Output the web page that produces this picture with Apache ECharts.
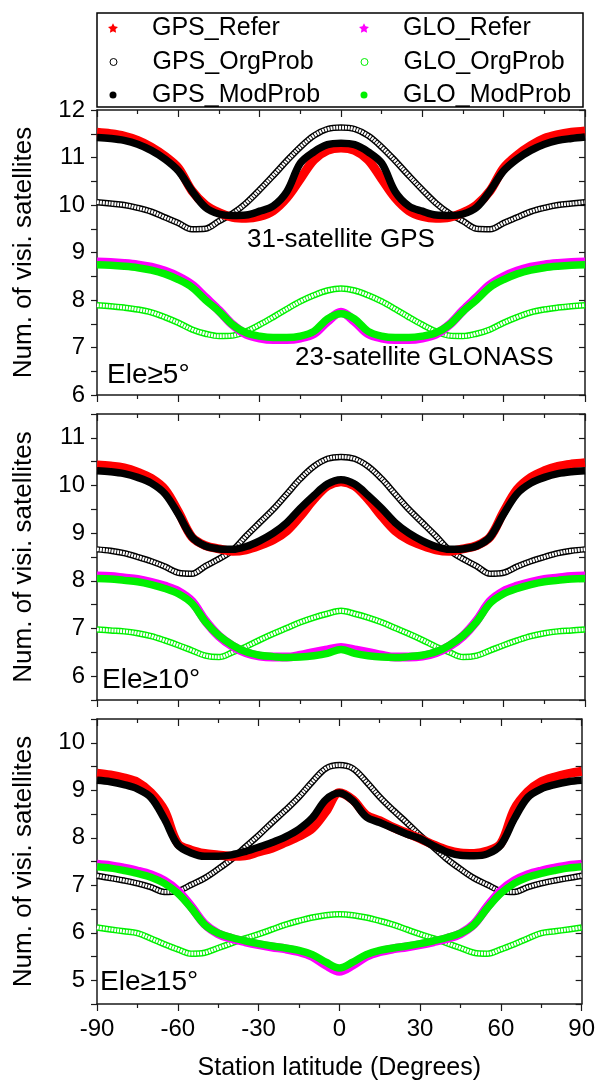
<!DOCTYPE html>
<html>
<head>
<meta charset="utf-8">
<script src="https://cdn.jsdelivr.net/npm/echarts@6/dist/echarts.min.js"></script>
<style>html,body{margin:0;padding:0;background:#fff}#c{width:598px;height:1082px}</style>
</head>
<body>
<div id="c"></div>
<script>
// ---- data ----
const LAT = [-90,-85,-80,-75,-70,-65,-60,-55,-50,-45,-40,-35,-30,-25,-20,-15,-10,-5,0,5,10,15,20,25,30,35,40,45,50,55,60,65,70,75,80,85,90];
const X_TICKS = [-90,-60,-30,0,30,60,90];

// Ele >= 5 deg
const GPS_REFER_5 = [11.53,11.50,11.45,11.36,11.22,11.03,10.78,10.30,10.00,9.84,9.74,9.72,9.76,9.88,10.15,10.55,10.95,11.15,11.20,11.15,10.95,10.55,10.15,9.88,9.76,9.72,9.74,9.84,10.00,10.30,10.78,11.05,11.25,11.40,11.48,11.53,11.56];
const GPS_ORG_5   = [10.06,10.03,10.00,9.94,9.86,9.74,9.62,9.49,9.50,9.66,9.82,10.04,10.32,10.62,10.93,11.22,11.46,11.60,11.63,11.60,11.46,11.22,10.93,10.62,10.32,10.04,9.82,9.66,9.50,9.49,9.62,9.74,9.86,9.94,10.00,10.03,10.06];
const GPS_MOD_5   = [11.42,11.40,11.36,11.28,11.15,10.97,10.72,10.30,9.95,9.81,9.78,9.79,9.87,9.98,10.28,10.88,11.12,11.27,11.30,11.27,11.12,10.88,10.28,9.98,9.87,9.79,9.78,9.81,9.95,10.30,10.72,10.97,11.15,11.28,11.36,11.40,11.43];
const GLO_REFER_5 = [8.80,8.79,8.77,8.74,8.69,8.61,8.49,8.32,8.05,7.78,7.48,7.28,7.20,7.17,7.17,7.20,7.29,7.55,7.74,7.55,7.29,7.20,7.17,7.17,7.20,7.28,7.48,7.78,8.05,8.32,8.49,8.61,8.69,8.74,8.77,8.79,8.80];
const GLO_ORG_5   = [7.89,7.87,7.84,7.80,7.74,7.64,7.52,7.38,7.29,7.24,7.25,7.34,7.48,7.64,7.81,7.97,8.10,8.20,8.24,8.20,8.10,7.97,7.81,7.64,7.48,7.34,7.25,7.24,7.29,7.38,7.52,7.64,7.74,7.80,7.84,7.87,7.89];
const GLO_MOD_5   = [8.74,8.73,8.71,8.68,8.63,8.55,8.43,8.27,8.00,7.76,7.48,7.31,7.24,7.21,7.21,7.24,7.34,7.60,7.71,7.60,7.34,7.24,7.21,7.21,7.24,7.31,7.48,7.76,8.00,8.27,8.43,8.55,8.63,8.68,8.71,8.73,8.74];

// Ele >= 10 deg
const GPS_REFER_10 = [10.43,10.41,10.37,10.28,10.15,9.92,9.45,8.92,8.74,8.67,8.62,8.65,8.74,8.86,9.05,9.36,9.71,9.99,10.08,9.99,9.71,9.36,9.05,8.86,8.74,8.65,8.62,8.67,8.74,8.92,9.45,9.92,10.17,10.31,10.40,10.45,10.48];
const GPS_ORG_10   = [8.66,8.63,8.58,8.50,8.41,8.30,8.17,8.15,8.31,8.46,8.64,8.94,9.22,9.50,9.82,10.14,10.40,10.56,10.60,10.56,10.40,10.14,9.82,9.50,9.22,8.94,8.64,8.46,8.31,8.15,8.17,8.30,8.41,8.50,8.58,8.63,8.66];
const GPS_MOD_10   = [10.31,10.29,10.25,10.17,10.05,9.83,9.40,8.92,8.73,8.67,8.66,8.72,8.84,9.00,9.22,9.52,9.79,10.03,10.12,10.03,9.79,9.52,9.22,9.00,8.84,8.72,8.66,8.67,8.73,8.92,9.40,9.83,10.05,10.17,10.25,10.29,10.31];
const GLO_REFER_10 = [8.10,8.09,8.06,8.03,7.97,7.89,7.78,7.57,7.16,6.84,6.63,6.49,6.42,6.40,6.40,6.44,6.50,6.55,6.60,6.55,6.50,6.44,6.40,6.40,6.42,6.49,6.63,6.84,7.16,7.57,7.78,7.89,7.97,8.03,8.06,8.09,8.10];
const GLO_ORG_10   = [6.98,6.96,6.94,6.90,6.84,6.75,6.65,6.54,6.43,6.40,6.50,6.62,6.76,6.89,7.01,7.13,7.23,7.31,7.37,7.31,7.23,7.13,7.01,6.89,6.76,6.62,6.50,6.40,6.43,6.54,6.65,6.75,6.84,6.90,6.94,6.96,6.98];
const GLO_MOD_10   = [8.05,8.04,8.01,7.98,7.92,7.84,7.73,7.53,7.14,6.85,6.65,6.51,6.44,6.41,6.39,6.40,6.43,6.48,6.56,6.48,6.43,6.40,6.39,6.41,6.44,6.51,6.65,6.85,7.14,7.53,7.73,7.84,7.92,7.98,8.01,8.04,8.05];

// Ele >= 15 deg
const GPS_REFER_15 = [9.36,9.32,9.26,9.17,8.95,8.58,7.88,7.74,7.67,7.64,7.61,7.62,7.70,7.78,7.90,8.03,8.20,8.55,8.95,8.80,8.48,8.36,8.22,8.10,7.98,7.85,7.74,7.68,7.67,7.72,7.88,8.60,8.97,9.18,9.28,9.35,9.40];
const GPS_ORG_15   = [7.20,7.15,7.10,7.04,6.96,6.86,6.88,7.01,7.15,7.34,7.55,7.80,8.05,8.32,8.58,8.86,9.18,9.46,9.53,9.46,9.18,8.86,8.58,8.32,8.05,7.80,7.55,7.34,7.15,7.01,6.88,6.86,6.96,7.04,7.10,7.15,7.20];
const GPS_MOD_15   = [9.21,9.18,9.12,9.03,8.85,8.40,7.85,7.68,7.61,7.61,7.64,7.71,7.80,7.90,8.02,8.18,8.42,8.80,8.94,8.78,8.44,8.32,8.20,8.08,7.98,7.83,7.70,7.63,7.62,7.66,7.85,8.40,8.85,9.03,9.12,9.18,9.21];
const GLO_REFER_15 = [7.44,7.41,7.36,7.30,7.22,7.09,6.88,6.55,6.18,5.98,5.88,5.81,5.75,5.70,5.66,5.60,5.50,5.32,5.19,5.32,5.50,5.60,5.66,5.70,5.75,5.81,5.88,5.98,6.18,6.55,6.88,7.09,7.22,7.30,7.36,7.41,7.44];
const GLO_ORG_15   = [6.11,6.07,6.03,5.99,5.88,5.76,5.65,5.56,5.58,5.68,5.78,5.88,5.97,6.07,6.17,6.25,6.32,6.37,6.39,6.37,6.32,6.25,6.17,6.07,5.97,5.88,5.78,5.68,5.58,5.56,5.65,5.76,5.88,5.99,6.03,6.07,6.11];
const GLO_MOD_15   = [7.39,7.36,7.31,7.25,7.17,7.04,6.83,6.52,6.17,5.99,5.90,5.83,5.77,5.72,5.68,5.63,5.54,5.38,5.26,5.38,5.54,5.63,5.68,5.72,5.77,5.83,5.90,5.99,6.17,6.52,6.83,7.04,7.17,7.25,7.31,7.36,7.39];

const PANELS = [
  {ele:'5',  yMin:6,   yMax:12,   gpsRef:GPS_REFER_5,  gpsOrg:GPS_ORG_5,  gpsMod:GPS_MOD_5,  gloRef:GLO_REFER_5,  gloOrg:GLO_ORG_5,  gloMod:GLO_MOD_5},
  {ele:'10', yMin:5.5, yMax:11.5, gpsRef:GPS_REFER_10, gpsOrg:GPS_ORG_10, gpsMod:GPS_MOD_10, gloRef:GLO_REFER_10, gloOrg:GLO_ORG_10, gloMod:GLO_MOD_10},
  {ele:'15', yMin:4.5, yMax:10.5, gpsRef:GPS_REFER_15, gpsOrg:GPS_ORG_15, gpsMod:GPS_MOD_15, gloRef:GLO_REFER_15, gloOrg:GLO_ORG_15, gloMod:GLO_MOD_15}
];

// ---- styling / layout ----
const FONT = '"Liberation Sans", Arial, sans-serif';
const FRAME = '#1a1a1a';
const RED = '#ff0000', MAG = '#ff00ff', GRN = '#00f000', BLK = '#000000';
const GRID_POS = [{top:110, height:285}, {top:414, height:286}, {top:719, height:286}];
const STAR = 'path://M0,-10L2.94,-4.05L9.51,-3.09L4.76,1.55L5.88,8.09L0,5L-5.88,8.09L-4.76,1.55L-9.51,-3.09L-2.94,-4.05Z';

const grids = [], xAxes = [], yAxes = [], series = [];
const axisLine = {show:true, onZero:false, lineStyle:{color:FRAME, width:1.5}};

PANELS.forEach((p, i) => {
  grids.push({left:97, right:13, top:GRID_POS[i].top, height:GRID_POS[i].height, containLabel:false});
  const last = i === PANELS.length - 1;
  // bottom x axis
  xAxes.push({
    type:'value', gridIndex:i, position:'bottom', min:-90, max:90, interval:30,
    axisLine, splitLine:{show:false},
    axisTick:{show:true, inside:false, length:7, lineStyle:{color:FRAME, width:1.2}},
    minorTick:{show:true, splitNumber:2, length:4, lineStyle:{color:FRAME, width:1.2}},
    axisLabel:{show:last, fontSize:24, fontFamily:FONT, color:'#000', margin:13,
      customValues: X_TICKS},
    name: last ? 'Station latitude (Degrees)' : '',
    nameLocation:'middle', nameGap:52,
    nameTextStyle:{fontSize:25, fontFamily:FONT, color:'#000'}
  });
  // top x axis (frame)
  xAxes.push({
    type:'value', gridIndex:i, position:'top', min:-90, max:90, interval:30,
    axisLine, splitLine:{show:false},
    axisTick:{show:true, inside:true, length:7, lineStyle:{color:FRAME, width:1.2}},
    minorTick:{show:true, splitNumber:2, length:4, lineStyle:{color:FRAME, width:1.2}},
    axisLabel:{show:false}
  });
  // left y axis
  yAxes.push({
    type:'value', gridIndex:i, position:'left', min:p.yMin, max:p.yMax, interval:0.5,
    axisLine, splitLine:{show:false},
    axisTick:{show:true, inside:false, length:6, lineStyle:{color:FRAME, width:1.2}},
    axisLabel:{fontSize:24, fontFamily:FONT, color:'#000', margin:12,
      formatter: v => (Math.abs(v - Math.round(v)) < 1e-6 ? String(Math.round(v)) : '')},
    name:'Num. of visi. satellites', nameLocation:'middle', nameGap:60,
    nameTextStyle:{fontSize:26, fontFamily:FONT, color:'#000'}
  });
  // right y axis (frame)
  yAxes.push({
    type:'value', gridIndex:i, position:'right', min:p.yMin, max:p.yMax, interval:0.5,
    axisLine, splitLine:{show:false},
    axisTick:{show:true, inside:true, length:6, lineStyle:{color:FRAME, width:1.2}},
    axisLabel:{show:false}
  });

  const d = vals => LAT.map((x, k) => [x, vals[k]]);
  const base = {type:'line', xAxisIndex:i*2, yAxisIndex:i*2, showSymbol:false, symbol:'none',
    smooth:0.35, animation:false, silent:true};
  // hollow-circle series: dark ring band + white dashed core
  series.push({...base, name:'GPS_OrgProb', data:d(p.gpsOrg), itemStyle:{color:BLK}, lineStyle:{color:BLK, width:6.5}});
  series.push({...base, name:'gps_org_core_'+i, data:d(p.gpsOrg), lineStyle:{color:'#fff', width:3.6, type:[2,0.9]}});
  series.push({...base, name:'GLO_OrgProb', data:d(p.gloOrg), itemStyle:{color:GRN}, lineStyle:{color:GRN, width:6.5}});
  series.push({...base, name:'glo_org_core_'+i, data:d(p.gloOrg), lineStyle:{color:'#fff', width:3.6, type:[2,0.9]}});
  // star series
  series.push({...base, name:'GPS_Refer', data:d(p.gpsRef), itemStyle:{color:RED}, lineStyle:{color:RED, width:9}});
  series.push({...base, name:'GLO_Refer', data:d(p.gloRef), itemStyle:{color:MAG}, lineStyle:{color:MAG, width:9}});
  // filled circles
  series.push({...base, name:'GPS_ModProb', data:d(p.gpsMod), itemStyle:{color:BLK}, lineStyle:{color:BLK, width:7.5}});
  series.push({...base, name:'GLO_ModProb', data:d(p.gloMod), itemStyle:{color:GRN}, lineStyle:{color:GRN, width:7.5}});
});

// legend: one component per entry for exact placement
const LEG = [
  {name:'GPS_Refer',   col:0, row:0, icon:STAR,     size:10, style:{color:RED}},
  {name:'GLO_Refer',   col:1, row:0, icon:STAR,     size:10, style:{color:MAG}},
  {name:'GPS_OrgProb', col:0, row:1, icon:'circle', size:7,  style:{color:'#fff', borderColor:BLK, borderWidth:1}},
  {name:'GLO_OrgProb', col:1, row:1, icon:'circle', size:7,  style:{color:'#fff', borderColor:GRN, borderWidth:1}},
  {name:'GPS_ModProb', col:0, row:2, icon:'circle', size:7,  style:{color:BLK}},
  {name:'GLO_ModProb', col:1, row:2, icon:'circle', size:7,  style:{color:GRN}}
];
const ICON_X = [113, 364], TEXT_X = [152, 403], ROW_Y = [28, 62, 95];
const legends = LEG.map(l => ({
  show:true, selectedMode:false, orient:'horizontal', padding:0,
  left: ICON_X[l.col] - l.size/2, top: ROW_Y[l.row] - 13,
  itemWidth:l.size, itemHeight:l.size,
  data:[{name:l.name, icon:l.icon, itemStyle:l.style}],
  textStyle:{fontSize:25, fontFamily:FONT, color:'#000', lineHeight:26,
    padding:[0,0,0, TEXT_X[l.col] - (ICON_X[l.col] + l.size/2 + 5)]}
}));

const txt = (t, x, y, size) => ({type:'text', x, y, silent:true,
  style:{text:t, fontSize:size, fontFamily:FONT, fill:'#000', verticalAlign:'middle', align:'left'}});

const option = {
  backgroundColor:'#fff',
  animation:false,
  grid:grids, xAxis:xAxes, yAxis:yAxes, series, legend:legends,
  graphic:[
    {type:'rect', shape:{x:97, y:13, width:486, height:94}, silent:true,
      style:{fill:'none', stroke:BLK, lineWidth:1.5}},
    txt('31-satellite GPS', 247, 240, 26),
    txt('23-satellite GLONASS', 295, 358, 26),
    txt('Ele\u22655\u00B0', 107, 375, 28),
    txt('Ele\u226510\u00B0', 102, 680, 28),
    txt('Ele\u226515\u00B0', 100, 982, 28)
  ]
};
const chart = echarts.init(document.getElementById('c'), null, {renderer:'canvas'});
chart.setOption(option);
</script>
</body>
</html>
